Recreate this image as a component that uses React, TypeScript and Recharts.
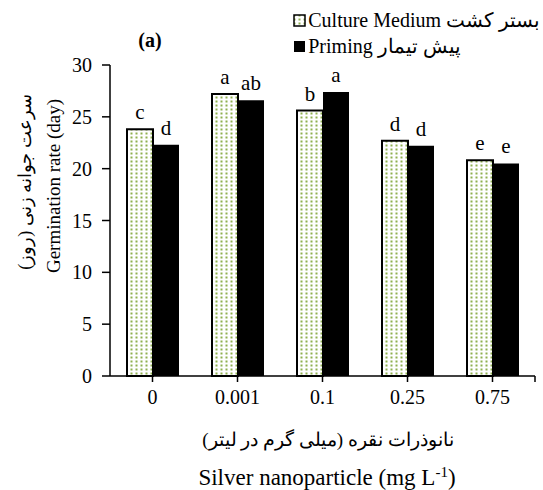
import React from 'react';
import { BarChart, Bar, XAxis, YAxis, LabelList } from 'recharts';

const categories = ['0', '0.001', '0.1', '0.25', '0.75'];
const cultureValues = [23.8, 27.2, 25.6, 22.7, 20.8];
const primingValues = [22.3, 26.6, 27.4, 22.2, 20.5];
const cultureLetters = ['c', 'a', 'b', 'd', 'e'];
const primingLetters = ['d', 'ab', 'a', 'd', 'e'];
const yTicks = [0, 5, 10, 15, 20, 25, 30];

const FONT = 'Liberation Serif, Times New Roman, Noto Sans, serif';

const data = categories.map((c, i) => ({
    name: c,
    culture: cultureValues[i],
    priming: primingValues[i],
    cultureLetter: cultureLetters[i],
    primingLetter: primingLetters[i],
}));

const txt = { fontFamily: FONT, fill: '#000' };

function LegendBox() {
    const row = { display: 'flex', alignItems: 'center', height: 26, whiteSpace: 'nowrap' } as const;
    return (
        <div
            style={{
                position: 'absolute',
                right: 3,
                top: 7,
                fontFamily: FONT,
                fontSize: 20,
                color: '#000',
            }}
        >
            <div style={row}>
                <svg width={13} height={13} style={{ marginRight: 2 }}>
                    <rect x={1} y={1} width={11} height={11} fill="url(#dots)" stroke="#000" strokeWidth={1.5} />
                </svg>
                <span>Culture Medium بستر کشت</span>
            </div>
            <div style={row}>
                <svg width={13} height={13} style={{ marginRight: 2 }}>
                    <rect x={1} y={1} width={11} height={11} fill="#000" />
                </svg>
                <span>Priming پیش تیمار</span>
            </div>
        </div>
    );
}

export default function App() {
    return (
        <div style={{ position: 'absolute', left: 0, top: 0, width: 543, height: 490, background: '#fff' }}>
            <BarChart
                width={543}
                height={490}
                data={data}
                margin={{ top: 65, right: 8, left: 70, bottom: 84 }}
                barCategoryGap={17}
                barGap={0}
            >
                <defs>
                    <pattern id="dots" width={5} height={4} patternUnits="userSpaceOnUse">
                        <rect width={5} height={4} fill="#fff" />
                        <rect x={0.5} y={0.5} width={2} height={2} fill="#8fb050" />
                    </pattern>
                </defs>
                <XAxis
                    dataKey="name"
                    axisLine={{ stroke: '#000', strokeWidth: 1.5 }}
                    tickLine={{ stroke: '#000', strokeWidth: 1.5 }}
                    tickSize={6}
                    tickMargin={8}
                    height={30}
                    tick={{ ...txt, fontSize: 20 }}
                />
                <YAxis
                    domain={[0, 30]}
                    ticks={yTicks}
                    width={40}
                    axisLine={{ stroke: '#000', strokeWidth: 1.5 }}
                    tickLine={{ stroke: '#000', strokeWidth: 1.5 }}
                    tickSize={8}
                    tickMargin={10}
                    tick={{ ...txt, fontSize: 20 }}
                />
                <Bar dataKey="culture" fill="url(#dots)" stroke="#000" strokeWidth={2} isAnimationActive={false}>
                    <LabelList dataKey="cultureLetter" position="top" offset={10} style={{ ...txt, fontSize: 21 }} />
                </Bar>
                <Bar dataKey="priming" fill="#000" isAnimationActive={false}>
                    <LabelList dataKey="primingLetter" position="top" offset={10} style={{ ...txt, fontSize: 21 }} />
                </Bar>
                {/* closing tick at the right end of the category axis */}
                <line x1={535} y1={376} x2={535} y2={382} stroke="#000" strokeWidth={1.5} />
                <text x={150} y={47} textAnchor="middle" style={{ ...txt, fontSize: 20, fontWeight: 'bold' }}>
                    (a)
                </text>
                <text transform="translate(60,186) rotate(-90)" textAnchor="middle" style={{ ...txt, fontSize: 19 }}>
                    Germination rate (day)
                </text>
                <text transform="translate(31,182) rotate(-90)" textAnchor="middle" style={{ ...txt, fontSize: 18 }}>
                    سرعت جوانه زنی (روز)
                </text>
                <text x={328} y={446} textAnchor="middle" style={{ ...txt, fontSize: 19 }}>
                    نانوذرات نقره (میلی گرم در لیتر)
                </text>
                <text x={327} y={485} textAnchor="middle" style={{ ...txt, fontSize: 23 }}>
                    Silver nanoparticle (mg L
                    <tspan dy={-8} fontSize={15}>-1</tspan>
                    <tspan dy={8}>)</tspan>
                </text>
            </BarChart>
            <LegendBox />
        </div>
    );
}
